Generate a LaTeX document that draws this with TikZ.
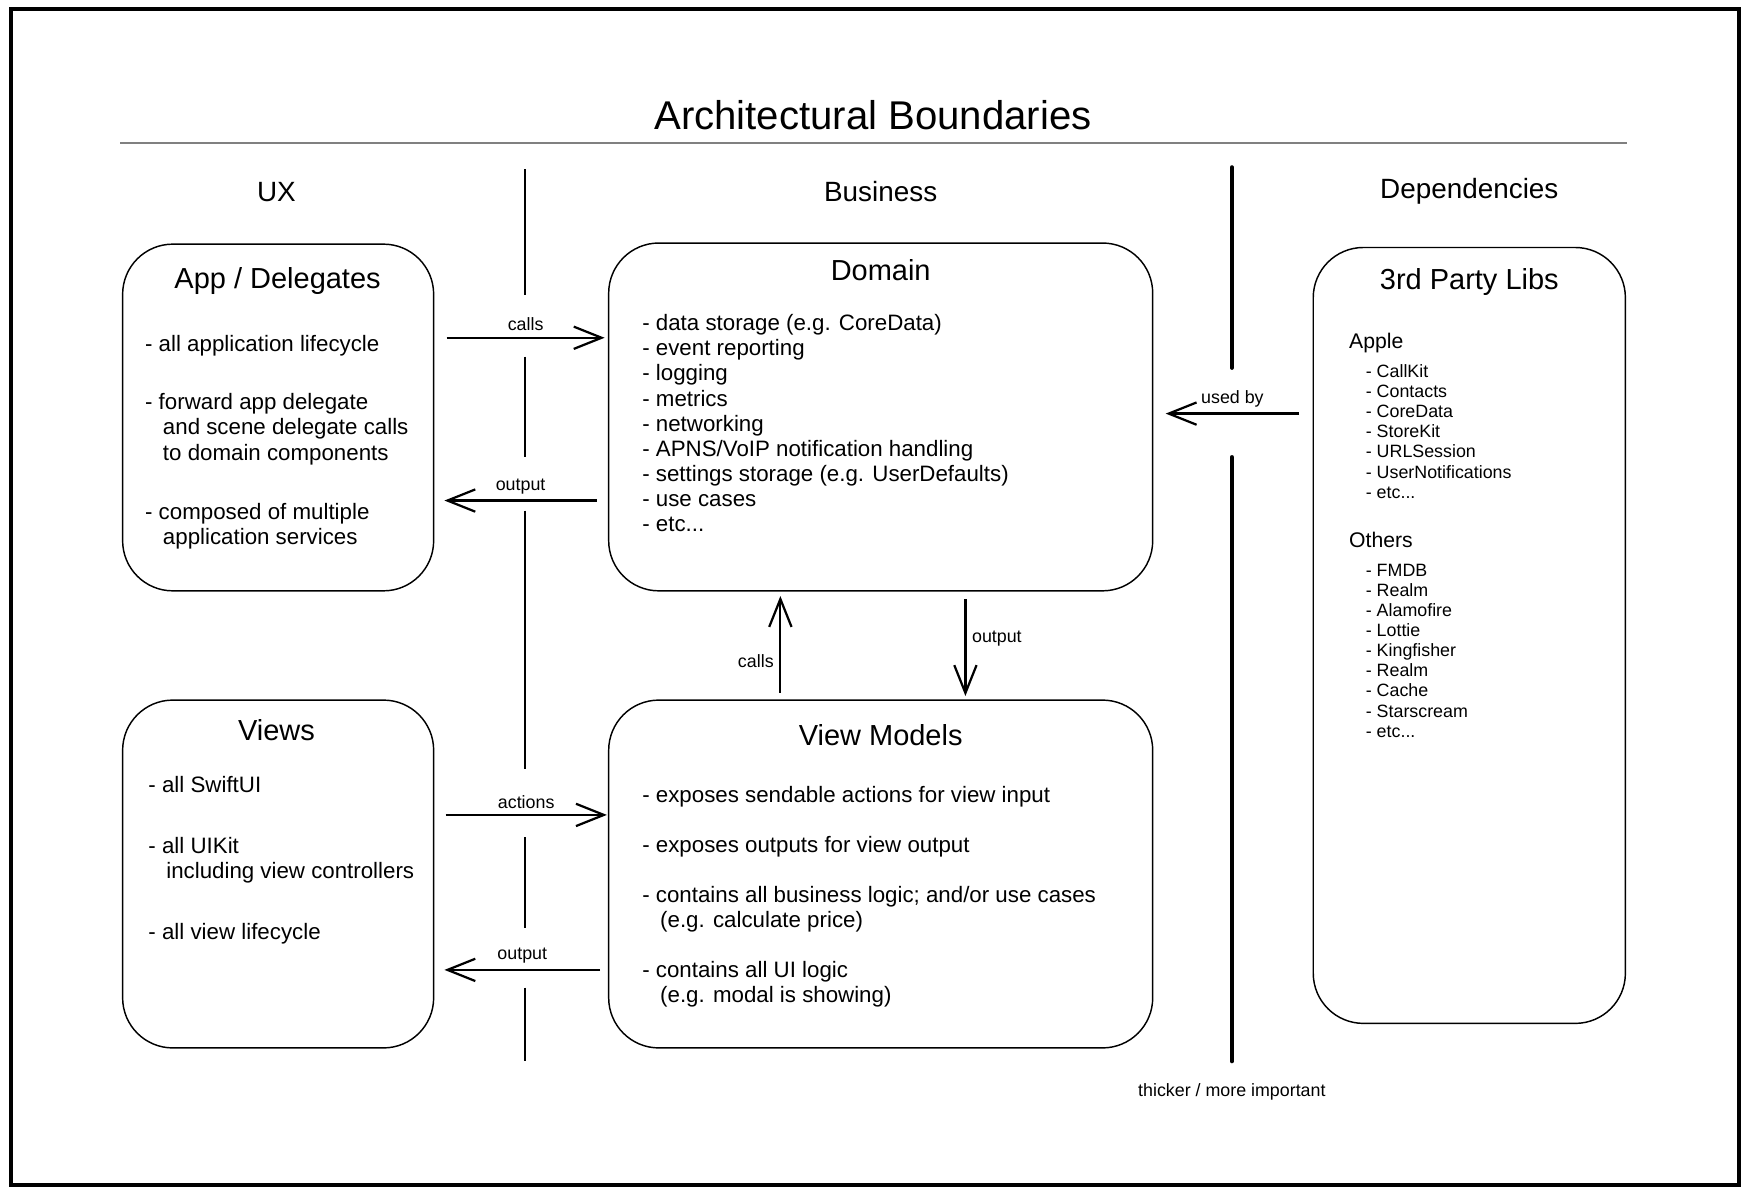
\documentclass[tikz,border=0pt]{standalone}
\usepackage{fontspec}
\setmainfont{Liberation Sans}
\usetikzlibrary{arrows.meta, positioning, calc}
\tikzset{%
  box/.style={draw, rounded corners=45pt, line width=1.3pt},
  heading/.style={font=\fontsize{25}{30}\selectfont},
  boxtitle/.style={font=\fontsize{26}{30}\selectfont},
  body/.style={font=\fontsize{20}{22.5}\selectfont, align=left,
    anchor=north west, inner sep=0pt},
  libhead/.style={font=\fontsize{19}{22}\selectfont, anchor=base west,
    inner sep=0pt},
  liblist/.style={font=\fontsize{16}{18}\selectfont, align=left,
    anchor=north west, inner sep=0pt},
  lbl/.style={font=\fontsize{16}{18}\selectfont, inner sep=5pt},
  every edge/.style={
    draw,
    line width=2pt,
    -{Straight Barb[length=25pt, width=20pt]},
    auto}%
}
\newcommand{\cont}{\hspace*{16pt}}

\begin{document}
\begin{tikzpicture}[x=1pt, y=-1pt]
    \useasboundingbox (0,0) rectangle (1568,1073);
    \draw[line width=4pt] (10,8) rectangle (1560,1063);

    % title and columns
    \node[font=\fontsize{36}{40}\selectfont] (title) at (783,103) {Architectural Boundaries};
    \draw[gray, line width=2pt] (108,128) -- (1459,128);
    \node[heading] (ux) at (248,172) {UX};
    \node[heading] (business) at (790,172) {Business};
    \node[heading] (deps) at (1318,172) {Dependencies};

    % boundaries
    \foreach \a/\b in {152/265, 320/410, 458/690, 751/832, 886/952}
      \draw[line width=1.3pt] (471,\a) -- (471,\b);
    \foreach \a/\b in {150/330, 410/952}
      \draw[line width=3.6pt, line cap=round] (1105,\a) -- (1105,\b);
    \node[lbl] (thicker) at (1105,979) {thicker / more important};

    % boxes
    \node[box, minimum width=279pt, minimum height=311pt] (app) at (249.5,374.5) {};
    \node[box, minimum width=488pt, minimum height=312pt] (domain) at (790,374) {};
    \node[box, minimum width=279pt, minimum height=312pt] (views) at (249.5,784) {};
    \node[box, minimum width=488pt, minimum height=312pt] (vm) at (790,784) {};
    \node[box, minimum width=280pt, minimum height=696pt] (libs) at (1318,570) {};

    \node[boxtitle] (appTitle) at (249,252) {App / Delegates};
    \node[body] (appText) at (130,301) {%
      - all application lifecycle\\[29.5pt]
      - forward app delegate\\
      \cont and scene delegate calls\\
      \cont to domain components\\[30.5pt]
      - composed of multiple\\
      \cont application services};

    \node[boxtitle] (domainTitle) at (790,242) {Domain};
    \node[body] (domainText) at (576,282) {%
      - data storage (e.g. CoreData)\\
      - event reporting\\
      - logging\\
      - metrics\\
      - networking\\
      - APNS/VoIP notification handling\\
      - settings storage (e.g. UserDefaults)\\
      - use cases\\
      - etc...};

    \node[boxtitle] (viewsTitle) at (248,655) {Views};
    \node[body] (viewsText) at (133,696) {%
      - all SwiftUI\\[32.5pt]
      - all UIKit\\
      \cont including view controllers\\[32.5pt]
      - all view lifecycle};

    \node[boxtitle] (vmTitle) at (790,659) {View Models};
    \node[body] (vmText) at (576,705) {%
      - exposes sendable actions for view input\\[22.5pt]
      - exposes outputs for view output\\[22.5pt]
      - contains all business logic; and/or use cases\\
      \cont (e.g. calculate price)\\[22.5pt]
      - contains all UI logic\\
      \cont (e.g. modal is showing)};

    \node[boxtitle] (libsTitle) at (1318,253) {3rd Party Libs};
    \node[libhead] (apple) at (1210,313) {Apple};
    \node[liblist] (appleList) at (1225,327) {%
      - CallKit\\ - Contacts\\ - CoreData\\ - StoreKit\\
      - URLSession\\ - UserNotifications\\ - etc...};
    \node[libhead] (others) at (1210,491) {Others};
    \node[liblist] (othersList) at (1225,506) {%
      - FMDB\\ - Realm\\ - Alamofire\\ - Lottie\\ - Kingfisher\\
      - Realm\\ - Cache\\ - Starscream\\ - etc...};

    \draw
      ($(app.east)+(11,-71.5)$) edge node[lbl, above] {calls} ($(domain.west)+(-3,-71)$)
      ($(domain.west)+(-10,75)$) edge node[lbl, above] {output} ($(app.east)+(9,74.5)$)
      ($(views.east)+(10,-53)$) edge node[lbl, above] {actions} ($(vm.west)+(-1,-53)$)
      ($(vm.west)+(-7,86)$) edge node[lbl, above] {output} ($(views.east)+(9,86)$)
      ($(vm.north)+(-90,-6)$) edge node[lbl, left, pos=0.33] {calls} ($(domain.south)+(-90,4)$)
      ($(domain.south)+(76,7)$) edge node[lbl, right, pos=0.41] {output} ($(vm.north)+(76,-3)$)
      ($(libs.west)+(-12,-199)$) edge node[lbl, above] {used by} ($(domain.east)+(11,-3)$)
    ;

\end{tikzpicture}
\end{document}
